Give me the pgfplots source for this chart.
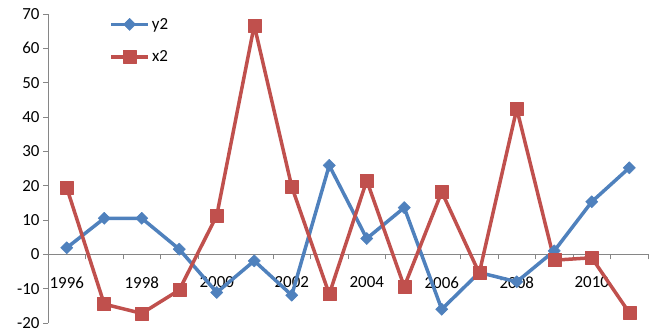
\documentclass[border=0pt]{standalone}
\usepackage{fontspec}
\setmainfont{Carlito}
\usepackage{pgfplots}
\pgfplotsset{compat=1.18}

\definecolor{seriesblue}{HTML}{4F81BD}
\definecolor{seriesred}{HTML}{C0504D}
\definecolor{axisgray}{HTML}{868686}

\begin{document}
\begin{tikzpicture}
\useasboundingbox (-48bp,-10bp) rectangle (601bp,323bp);
\begin{axis}[
  at={(0,0)}, anchor=south west,
  scale only axis, width=600bp, height=309bp,
  xmin=1995.5, xmax=2011.5, ymin=-20, ymax=70,
  clip=false,
  axis y line*=left, axis x line*=middle,
  axis line style={color=axisgray, line width=0.9bp},
  tick align=outside, major tick length=5bp,
  tick style={color=axisgray, line width=0.9bp},
  xtick={1995.5,1996.5,1997.5,1998.5,1999.5,2000.5,2001.5,2002.5,2003.5,
         2004.5,2005.5,2006.5,2007.5,2008.5,2009.5,2010.5,2011.5},
  xticklabels={},
  extra x ticks={1996,1998,2000,2002,2004,2006,2008,2010},
  extra x tick labels={1996,1998,2000,2002,2004,2006,2008,2010},
  extra x tick style={major tick length=0pt, xticklabel style={yshift=-19bp}},
  ytick={-20,-10,0,10,20,30,40,50,60,70},
  /pgf/number format/assume math mode=true,
  tick label style={font=\fontsize{17}{20}\selectfont, text=black},
  legend style={draw=none, fill=none, at={(0.097,1.0)}, anchor=north west,
    font=\fontsize{17}{20}\selectfont, row sep=16bp},
  legend image code/.code={
    \draw[#1, mark repeat=2, mark phase=2]
      plot coordinates {(0bp,0bp) (18.5bp,0bp) (37bp,0bp)};},
  every axis plot/.append style={line width=3.5bp, line join=round},
]
\addplot[color=seriesblue, mark=square*, mark size=4.3bp,
  mark options={solid, rotate=45, line width=0.5bp}] coordinates {
  (1996,1.9) (1997,10.5) (1998,10.5) (1999,1.5) (2000,-11.1) (2001,-1.9)
  (2002,-11.9) (2003,25.9) (2004,4.6) (2005,13.6) (2006,-16.0) (2007,-5.3)
  (2008,-8.0) (2009,1.0) (2010,15.3) (2011,25.2)};
\addlegendentry{y2}
\addplot[color=seriesred, mark=square*, mark size=6.5bp,
  mark options={solid, line width=0.5bp}] coordinates {
  (1996,19.4) (1997,-14.5) (1998,-17.2) (1999,-10.4) (2000,11.3) (2001,66.7)
  (2002,19.7) (2003,-11.6) (2004,21.5) (2005,-9.4) (2006,18.2) (2007,-5.5)
  (2008,42.4) (2009,-1.7) (2010,-1.0) (2011,-17.0)};
\addlegendentry{x2}
\end{axis}
\end{tikzpicture}
\end{document}
